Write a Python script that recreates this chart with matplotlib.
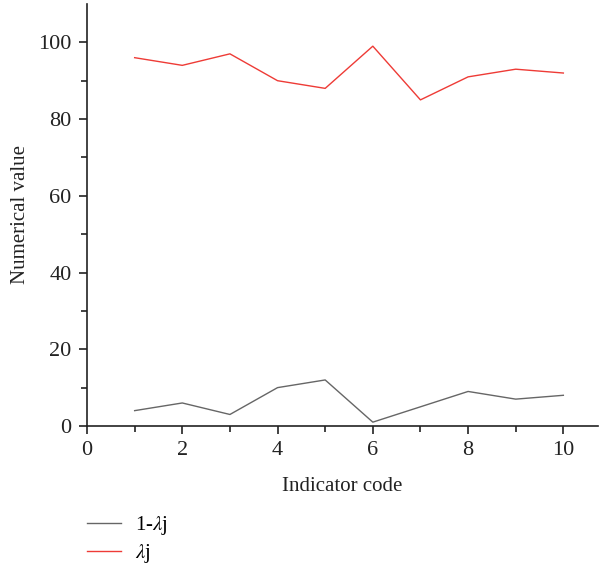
import matplotlib.pyplot as plt

plt.rcParams['font.family'] = ['Liberation Serif', 'DejaVu Serif']
plt.rcParams['mathtext.fontset'] = 'stix'

codes = [1, 2, 3, 4, 5, 6, 7, 8, 9, 10]
one_minus_lambda = [4, 6, 3, 10, 12, 1, 5, 9, 7, 8]
lambda_j = [96, 94, 97, 90, 88, 99, 85, 91, 93, 92]

fig = plt.figure(figsize=(6.06, 5.67), dpi=100)
ax = fig.add_axes([0.1436, 0.2487, 0.8434, 0.7443])

l1, = ax.plot(codes, one_minus_lambda, color='#666666', lw=1.0, label=r'1-$\lambda$j')
l2, = ax.plot(codes, lambda_j, color='#ee3b36', lw=1.0, label=r'$\lambda$j')

ax.set_xlim(0, 10.73)
ax.set_ylim(0, 110)
ax.set_xticks([0, 2, 4, 6, 8, 10])
ax.set_xticks([1, 3, 5, 7, 9], minor=True)
ax.set_yticks([0, 20, 40, 60, 80, 100])
ax.set_yticks([10, 30, 50, 70, 90], minor=True)
ax.spines['top'].set_visible(False)
ax.spines['right'].set_visible(False)
for s in ['left', 'bottom']:
    ax.spines[s].set_linewidth(1.2)
    ax.spines[s].set_color('#222222')
ax.tick_params(which='major', length=6, width=1.2, labelsize=16, colors='#222222', pad=5)
ax.tick_params(which='minor', length=4, width=1.2, colors='#222222')
ax.set_xlabel('Indicator code', fontsize=15, labelpad=12, color='#222222')
ax.set_ylabel('Numerical value', fontsize=15, labelpad=6, color='#222222')

fig.legend(handles=[l1, l2], loc='upper left', bbox_to_anchor=(0.1436, 0.093),
           frameon=False, fontsize=15, handlelength=1.65, handletextpad=0.65,
           labelspacing=0.25, borderaxespad=0, borderpad=0)

fig.savefig('out.png', dpi=100)
